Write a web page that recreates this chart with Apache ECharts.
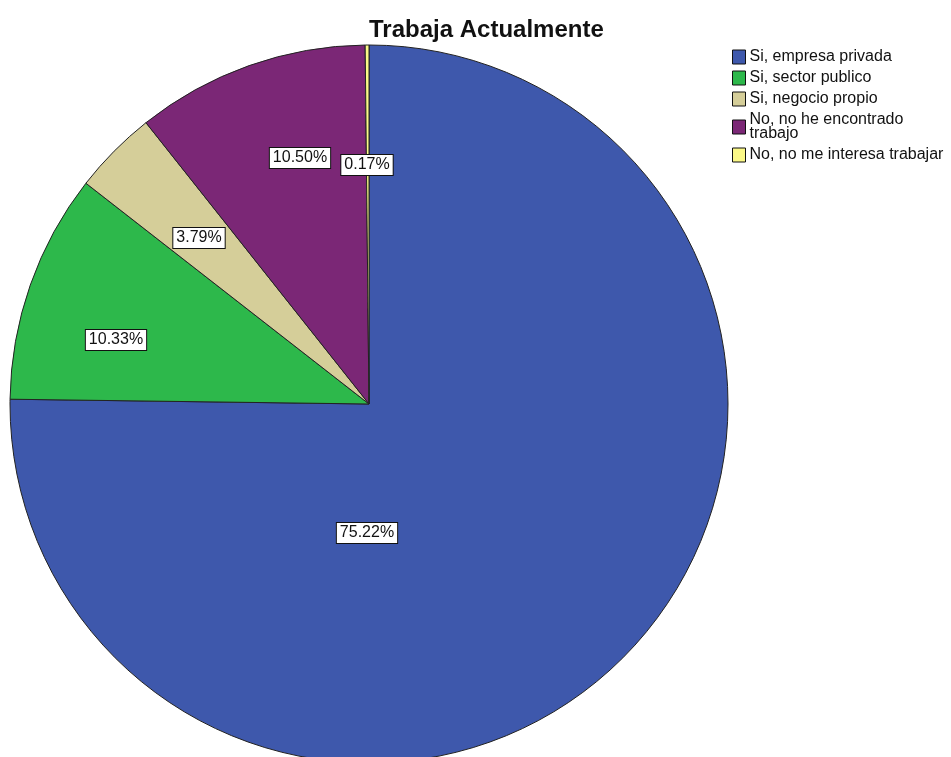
<!DOCTYPE html>
<html>
<head>
<meta charset="utf-8">
<script src="https://cdn.jsdelivr.net/npm/echarts@6.0.0/dist/echarts.min.js"></script>
<style>
  html, body { margin: 0; padding: 0; background: #fff; }
  #chart { width: 951px; height: 757px; }
</style>
</head>
<body>
<div id="chart"></div>
<script>
// Trabaja Actualmente: SPSS-style pie, labels in white boxes
const categories = ['Si, empresa privada', 'Si, sector publico', 'Si, negocio propio', 'No, no he encontrado trabajo', 'No, no me interesa trabajar']
const percents = [75.22, 10.33, 3.79, 10.50, 0.17]
const colors = ['#3E58AC', '#2DB84B', '#D5CE99', '#7B2776', '#FBF887']

// where SPSS drew each percentage box (px, centre of box)
const labelAt = [[367, 533], [116, 340], [199, 238], [300, 158], [367, 165]]

const chart = echarts.init(document.getElementById('chart'), null, { renderer: 'canvas' })
chart.setOption({
  animation: false,
  textStyle: { fontFamily: '"Liberation Sans", Arial, sans-serif' },
  title: {
    text: 'Trabaja Actualmente', left: 364, top: 13,
    textStyle: { fontSize: 24, fontWeight: 'bold', color: '#111' },
  },
  legend: {
    orient: 'vertical', left: 727, top: 44,
    itemWidth: 13, itemHeight: 14, itemGap: 5,
    icon: 'rect',
    itemStyle: { borderColor: '#111', borderWidth: 1 },
    textStyle: { fontSize: 16, color: '#111', lineHeight: 14, padding: [0, 0, 0, -1] },
    formatter: n => n === 'No, no he encontrado trabajo' ? 'No, no he encontrado\ntrabajo' : n,
    data: categories,
  },
  series: [{
    type: 'pie',
    center: [369, 404],
    radius: 359,
    startAngle: 90,
    clockwise: true,
    avoidLabelOverlap: false,
    itemStyle: { borderColor: '#222', borderWidth: 1 },
    label: {
      show: true, position: 'inside',
      formatter: p => p.value.toFixed(2) + '%',
      fontSize: 16, lineHeight: 17, color: '#111',
      backgroundColor: '#fff', borderColor: '#111', borderWidth: 1,
      padding: [2, 3, 1, 3],
    },
    labelLine: { show: false },
    labelLayout: p => ({ x: labelAt[p.dataIndex][0], y: labelAt[p.dataIndex][1], align: 'center', verticalAlign: 'middle' }),
    emphasis: { disabled: true },
    data: categories.map((c, i) => ({ name: c, value: percents[i], itemStyle: { color: colors[i] } })),
  }],
})
</script>
</body>
</html>
